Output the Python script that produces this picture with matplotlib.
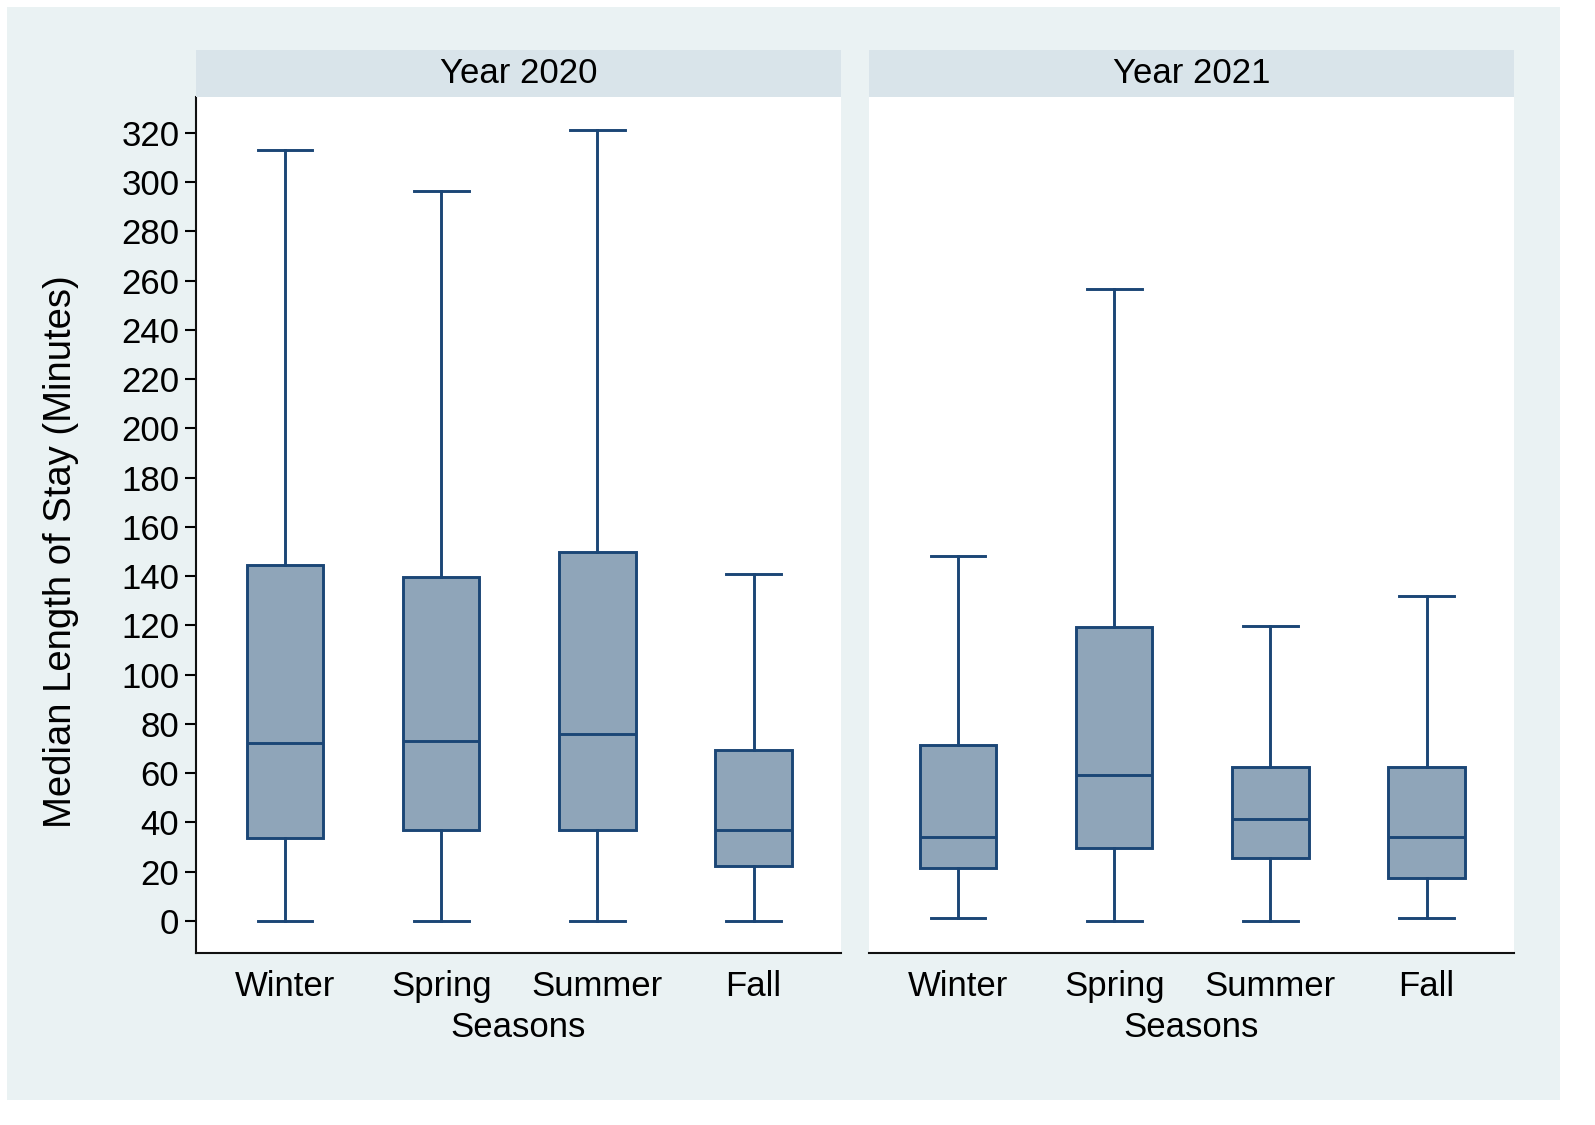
import matplotlib
matplotlib.use('Agg')
import matplotlib.pyplot as plt
from matplotlib.patches import Rectangle
from matplotlib import font_manager

# ---------------- data ----------------
seasons = ['Winter', 'Spring', 'Summer', 'Fall']
panel_titles = ['Year 2020', 'Year 2021']
yticks = list(range(0, 321, 20))

whislo_2020 = [0, 0, 0, 0]
q1_2020 = [33.7, 37.0, 37.0, 22.3]
med_2020 = [72.3, 73.1, 75.9, 37.0]
q3_2020 = [144.6, 139.7, 149.8, 69.4]
whishi_2020 = [313.0, 296.4, 321.2, 140.9]

whislo_2021 = [1.2, 0, 0, 1.2]
q1_2021 = [21.5, 29.6, 25.6, 17.5]
med_2021 = [34.1, 59.3, 41.4, 34.1]
q3_2021 = [71.5, 119.4, 62.5, 62.5]
whishi_2021 = [148.2, 256.6, 119.8, 132.0]

# ---------------- style ----------------
avail = {f.name for f in font_manager.fontManager.ttflist}
fams = [f for f in ['Liberation Sans Narrow', 'Liberation Sans', 'DejaVu Sans'] if f in avail]
plt.rcParams['font.family'] = fams

W, H = 1595, 1125
fig = plt.figure(figsize=(W / 100, H / 100), dpi=100, facecolor='white')

# outer light background
bg = Rectangle((7 / W, 1 - 1100 / H), (1560 - 7) / W, (1100 - 7) / H,
               transform=fig.transFigure, facecolor='#EAF2F3',
               edgecolor='none', zorder=-10)
fig.add_artist(bg)

edge = '#1B4676'
fill = '#8FA5B9'
lw = 2.1

def fx(px):
    return px / W

def fy(py):
    return 1 - py / H

panels = [
    (196, 841, whislo_2020, q1_2020, med_2020, q3_2020, whishi_2020),
    (869, 1514, whislo_2021, q1_2021, med_2021, q3_2021, whishi_2021),
]
top, bottom, strip_top = 97, 953, 50

for i, (l, r, lo, q1, med, q3, hi) in enumerate(panels):
    ax = fig.add_axes([fx(l), fy(bottom), fx(r) - fx(l), fy(top) - fy(bottom)])
    ax.set_zorder(1)
    ax.set_facecolor('white')
    stats = []
    for j, s in enumerate(seasons):
        stats.append(dict(label=s, whislo=lo[j], q1=q1[j], med=med[j], q3=q3[j],
                          whishi=hi[j], fliers=[]))
    ax.bxp(stats, positions=[1, 2, 3, 4], widths=0.49, capwidths=0.35,
           patch_artist=True, showfliers=False,
           boxprops=dict(facecolor=fill, edgecolor=edge, linewidth=lw),
           medianprops=dict(color=edge, linewidth=lw),
           whiskerprops=dict(color=edge, linewidth=lw),
           capprops=dict(color=edge, linewidth=lw))
    ax.set_xlim(0.43, 4.56)
    ax.set_ylim(-13, 334.6)
    for sp in ['top', 'right']:
        ax.spines[sp].set_visible(False)
    ax.spines['bottom'].set_linewidth(1.5)
    ax.spines['bottom'].set_color('#111111')
    ax.tick_params(axis='x', length=0, pad=12, labelsize=25)
    ax.set_xlabel('Seasons', fontsize=25, labelpad=6)
    if i == 0:
        ax.spines['left'].set_linewidth(1.5)
        ax.spines['left'].set_color('#111111')
        ax.set_yticks(yticks)
        ax.tick_params(axis='y', length=8, width=1.5, labelsize=25, pad=4)
        ax.set_ylabel('Median Length of Stay (Minutes)', fontsize=27.5)
        ax.yaxis.set_label_coords((79 - l) / (r - l), (bottom - 552) / (bottom - top))
    else:
        ax.spines['left'].set_visible(False)
        ax.set_yticks(yticks)
        ax.tick_params(axis='y', length=0, labelleft=False)
    # strip
    sax = fig.add_axes([fx(l), fy(top), fx(r) - fx(l), fy(strip_top) - fy(top)])
    sax.set_zorder(1)
    sax.set_facecolor('#D9E4EA')
    sax.set_xticks([])
    sax.set_yticks([])
    for sp in sax.spines.values():
        sp.set_visible(False)
    sax.text(0.5, 0.5, panel_titles[i], ha='center', va='center', fontsize=25,
             transform=sax.transAxes)

fig.savefig('out.png', dpi=100, facecolor='white')
